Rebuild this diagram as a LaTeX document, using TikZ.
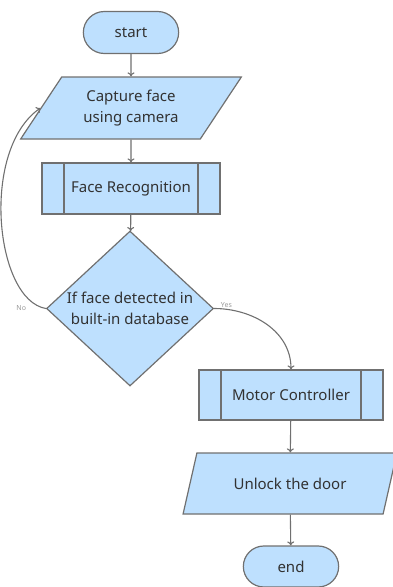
\documentclass[tikz,border=0pt]{standalone}
\usepackage{fontspec}
\setmainfont{Noto Sans}
\usetikzlibrary{arrows.meta,positioning,calc,shapes.geometric,shapes.misc}
\definecolor{boxfill}{RGB}{190,224,254}
\definecolor{boxline}{RGB}{112,112,112}
\definecolor{boxtext}{RGB}{50,50,50}

\begin{document}
\begin{tikzpicture}[x=1pt,y=-1pt]
        \tikzstyle{every node}=[font=\fontsize{15}{21}\selectfont,text=boxtext]
        \tikzstyle{box}=[draw=boxline,fill=boxfill,line width=1.2pt]
        \tikzstyle{terminal}=[box,rounded rectangle,minimum width=102pt,minimum height=42pt]
        \tikzstyle{io}=[box,trapezium,trapezium stretches,inner sep=0pt,align=center]
        \tikzstyle{process}=[box,rectangle,minimum height=51pt,
            path picture={
                \draw[boxline,line width=1.2pt] ($(path picture bounding box.north west)+(22,0)$) -- ($(path picture bounding box.south west)+(22,0)$);
                \draw[boxline,line width=1.2pt] ($(path picture bounding box.north east)+(-22,0)$) -- ($(path picture bounding box.south east)+(-22,0)$);
            }]
        \tikzstyle{decision}=[box,diamond,align=center,inner sep=-4pt,aspect=1.08,minimum width=167pt,minimum height=155pt]
        \tikzstyle{arr}=[-{To[length=4pt,width=7pt]},draw=boxline,line width=1.1pt]
        \tikzstyle{lbl}=[font=\fontsize{7}{8}\selectfont,text=black!40]

        \useasboundingbox (0,0) rectangle (393,587);

        %%% Nodes
        \node[terminal] (start) at (131,32.5) {start};
        \node[io,trapezium left angle=52,trapezium right angle=128,minimum width=221pt,minimum height=62pt] (capture) at (131,108) {Capture face\\using camera};
        \node[process,minimum width=178pt] (facerec) at (131,188.5) {Face Recognition};
        \node[decision] (detect) at (130,308.5) {If face detected in\\built-in database};
        \node[process,minimum width=184pt,minimum height=50pt] (motor) at (291,395) {Motor Controller};
        \node[io,trapezium left angle=54,trapezium right angle=126,minimum width=214pt,minimum height=61pt] (unlock) at (290,483.5) {Unlock the door};
        \node[terminal,minimum height=41pt] (end) at (291,566.5) {end};

        %%% Connectors
        \draw[arr] (start) edge (capture);
        \draw[arr] (capture) edge (facerec);
        \draw[arr] (facerec) edge (detect);
        \draw[arr] (detect.east) to[out=0,in=90] node[lbl,at start,anchor=south west,xshift=3pt,yshift=-3pt] {Yes} (motor.north);
        \draw[arr] (detect.west) .. controls (-5,300) and (-20,150) .. node[lbl,at start,anchor=east,xshift=-16pt] {No} (capture.west);
        \draw[arr] (motor) edge (unlock);
        \draw[arr] (unlock) edge (end);
\end{tikzpicture}
\end{document}
